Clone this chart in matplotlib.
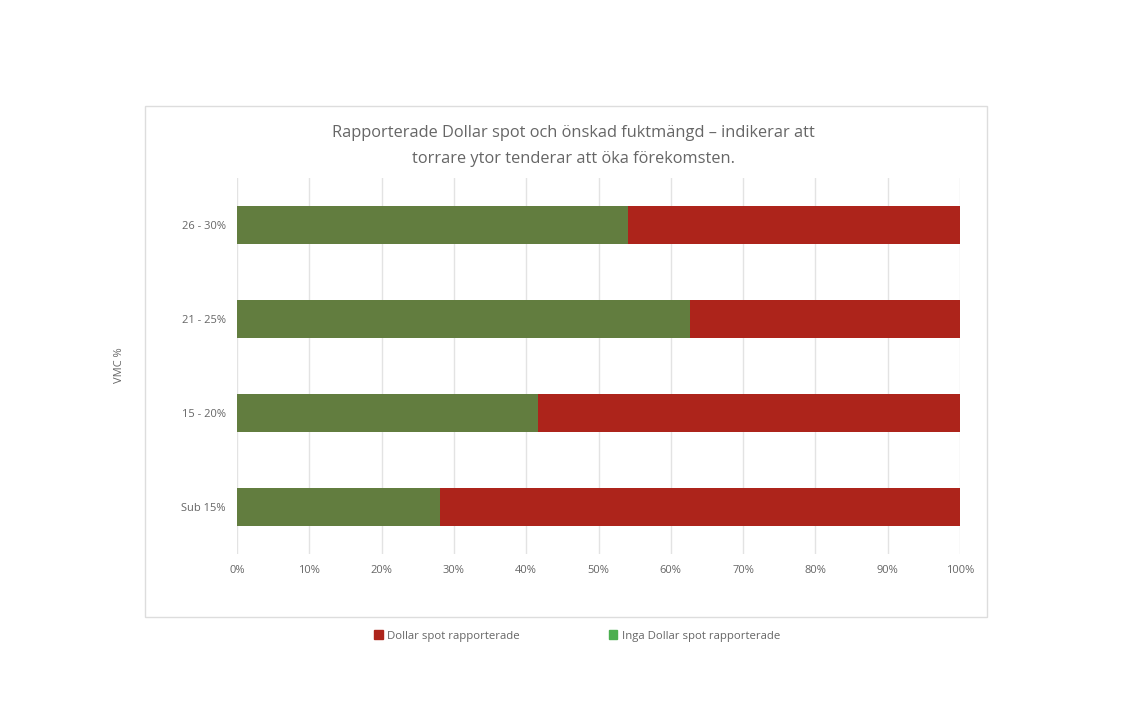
import matplotlib
matplotlib.use("Agg")
import matplotlib.pyplot as plt
from matplotlib.patches import Rectangle, Patch
import numpy as np

plt.rcParams['font.family'] = ['Open Sans', 'DejaVu Sans']

categories = ["Sub 15%", "15 - 20%", "21 - 25%", "26 - 30%"]
no_dollar_spot = [28.1, 41.7, 62.7, 54.1]   # Inga Dollar spot rapporterade (%)
dollar_spot = [100 - v for v in no_dollar_spot]  # Dollar spot rapporterade (%)
xticks = list(range(0, 101, 10))
title = "Rapporterade Dollar spot och önskad fuktmängd – indikerar att\ntorrare ytor tenderar att öka förekomsten."

GREEN = "#627d3f"
RED = "#ad241b"
LEG_GREEN = "#4caf50"
TXT = "#666666"
GRID = "#e3e3e3"

W, H = 1132, 724
fig = plt.figure(figsize=(W / 100, H / 100), dpi=100)
fig.patch.set_facecolor("white")

# outer frame
fig.patches.append(Rectangle((145 / W, 1 - 617 / H), (987 - 145) / W, (617 - 106) / H,
                             transform=fig.transFigure, fill=False, edgecolor="#dddddd", lw=1))

ax = fig.add_axes([237 / W, 1 - 554 / H, (960 - 237) / W, (554 - 178) / H])
y = np.arange(len(categories))
ax.barh(y, no_dollar_spot, height=0.4, color=GREEN, zorder=3)
ax.barh(y, dollar_spot, left=no_dollar_spot, height=0.4, color=RED, zorder=3)

ax.set_xlim(0, 100)
ax.set_ylim(-0.5, len(categories) - 0.5)
ax.set_xticks(xticks)
ax.set_xticklabels([f"{t}%" for t in xticks])
ax.set_yticks(y)
ax.set_yticklabels(categories)
ax.tick_params(axis="both", length=0, labelsize=8, labelcolor=TXT)
ax.tick_params(axis="x", pad=8)
ax.tick_params(axis="y", pad=8)
for s in ax.spines.values():
    s.set_visible(False)
ax.grid(axis="x", color=GRID, lw=1, zorder=0)
ax.set_axisbelow(True)

fig.text(120 / W, 1 - 365 / H, "VMC %", rotation=90, ha="center", va="center",
         fontsize=8, color=TXT)
fig.text(573 / W, 1 - 146 / H, title, ha="center", va="center", fontsize=11.8,
         color=TXT, linespacing=1.8)

# legend
handles = [Patch(color=RED, label="Dollar spot rapporterade"),
           Patch(color=LEG_GREEN, label="Inga Dollar spot rapporterade")]
leg = fig.legend(handles=handles, loc="center", bbox_to_anchor=(577 / W, 1 - 636 / H),
                 ncol=2, frameon=False, fontsize=8.2, handlelength=0.75, handleheight=0.75,
                 columnspacing=7.8, handletextpad=0.4)
for t in leg.get_texts():
    t.set_color(TXT)

fig.savefig("out.png", dpi=100)
